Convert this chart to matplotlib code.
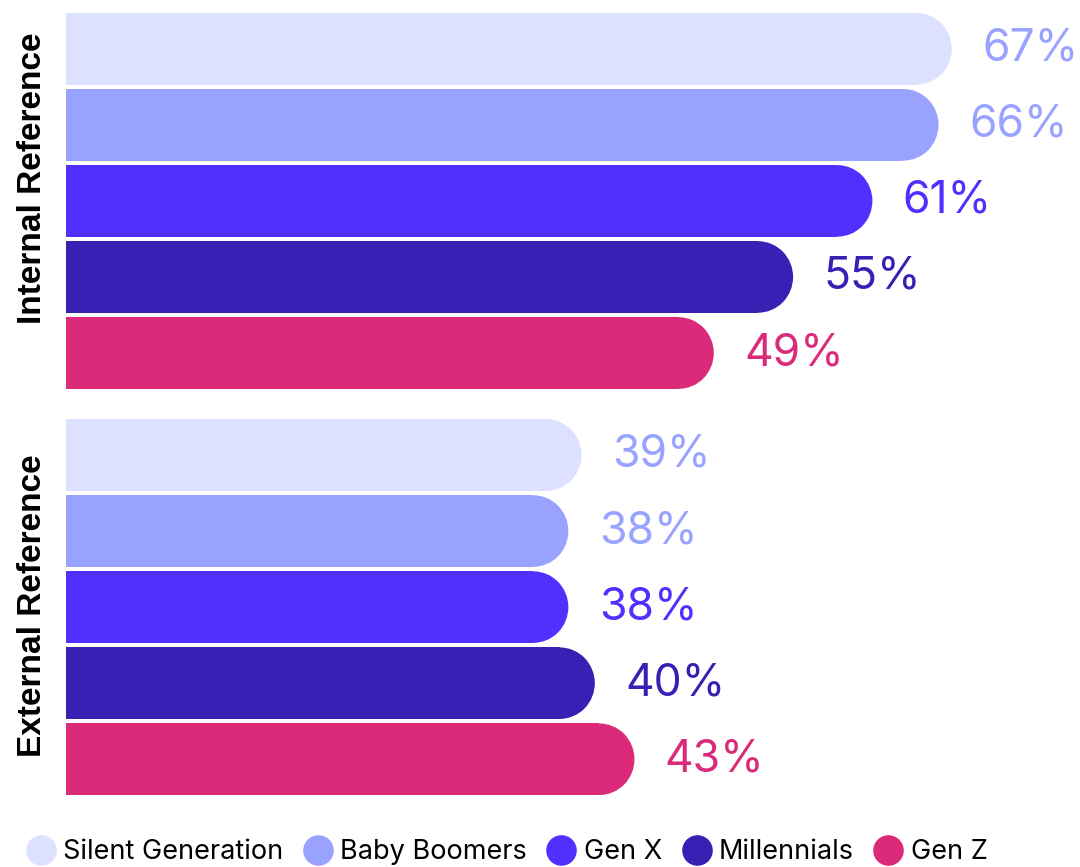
import matplotlib.pyplot as plt
from matplotlib.patches import Rectangle, Ellipse
from matplotlib.lines import Line2D

generations = ["Silent Generation", "Baby Boomers", "Gen X", "Millennials", "Gen Z"]
groups = ["Internal Reference", "External Reference"]
internal = [67, 66, 61, 55, 49]
external = [39, 38, 38, 40, 43]

bar_colors = ["#DDE0FF", "#99A3FF", "#5030FF", "#3720B4", "#DA2A79"]
label_colors = ["#99A3FF", "#99A3FF", "#5030FF", "#3720B4", "#DA2A79"]

fig = plt.figure(figsize=(10.8, 8.67), dpi=100)
ax = fig.add_axes([66 / 1080, 72 / 867, 1014 / 1080, 782 / 867])

bar_h = 0.94
group_offset = 5.34
cap = 2.65  # width of the rounded end, in percent units

for g, values in enumerate([internal, external]):
    base = g * group_offset
    for i, v in enumerate(values):
        y = base + i
        ax.add_patch(Rectangle((0, y - bar_h / 2), v - cap, bar_h,
                               color=bar_colors[i], lw=0))
        ax.add_patch(Ellipse((v - cap, y), 2 * cap, bar_h,
                             color=bar_colors[i], lw=0))
        ax.text(v + 2.3, y, f"{v}%", color=label_colors[i], fontsize=32,
                family="Inter", va="center", ha="left")

# group titles run vertically along the left edge
fig.text(33 / 1080, 1 - 178 / 867, groups[0], rotation=90, ha="center",
         va="center", fontsize=24, fontweight="bold", family="Liberation Sans")
fig.text(33 / 1080, 1 - 606 / 867, groups[1], rotation=90, ha="center",
         va="center", fontsize=24, fontweight="bold", family="Liberation Sans")

ax.set_xlim(0, 1014 / 13.22)
ax.set_ylim(group_offset + 4 + 0.47, -0.47)
ax.axis("off")

handles = [Line2D([], [], marker="o", ls="", markersize=21,
                  markerfacecolor=c, markeredgecolor=c) for c in bar_colors]
fig.legend(handles, generations, loc="center left", bbox_to_anchor=(0.012, 0.017),
           ncol=5, frameon=False, handletextpad=0.3, columnspacing=0.75,
           handlelength=1.05, borderpad=0, prop={"family": "Inter", "size": 19.5})

fig.savefig("out.png", dpi=100)
